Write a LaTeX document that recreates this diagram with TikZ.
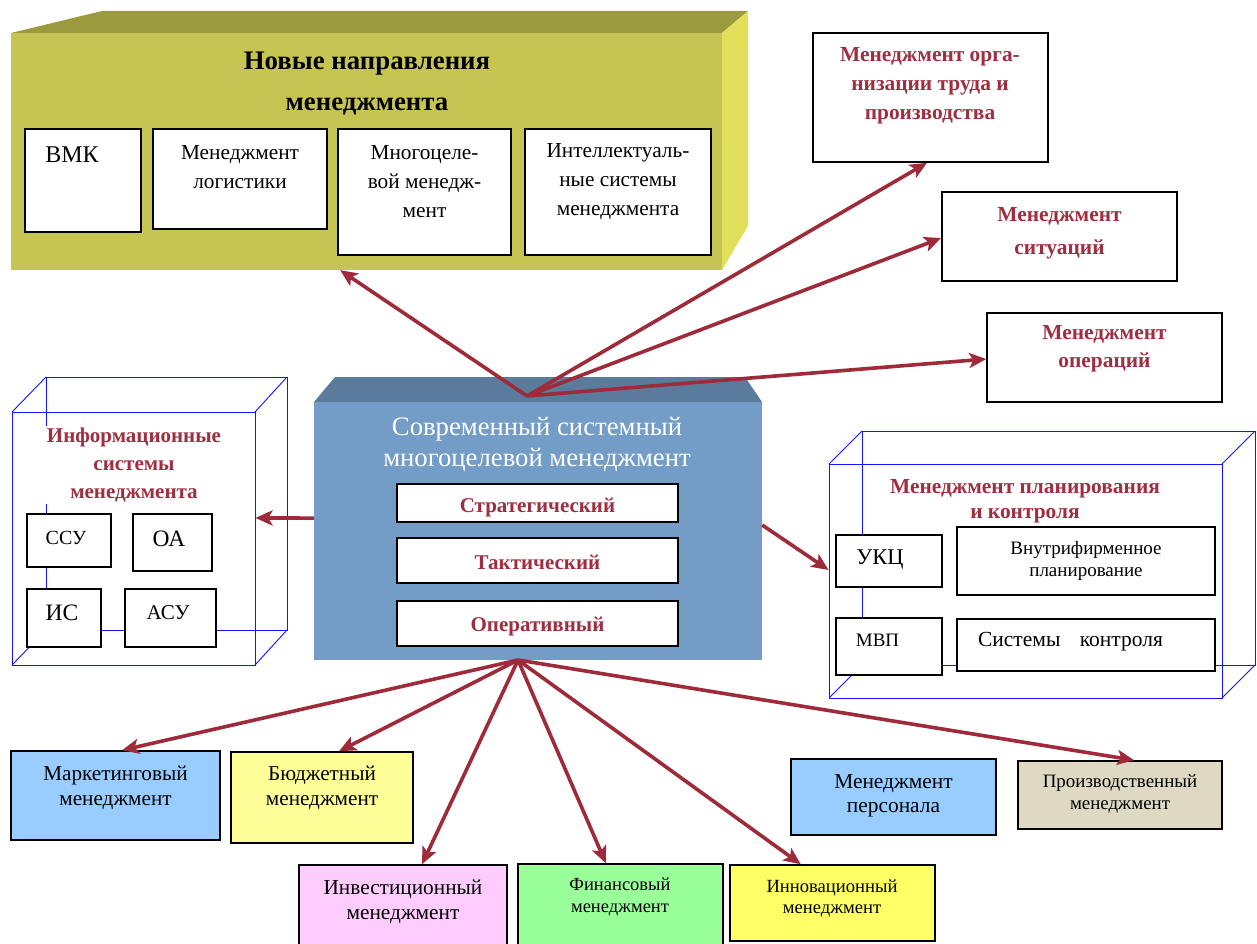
\documentclass[tikz,border=0pt]{standalone}
\usepackage{fontspec}
\setmainfont{Liberation Serif}
\usetikzlibrary{arrows.meta,calc,fit}
\definecolor{arrred}{RGB}{158,42,58}
\definecolor{txtred}{RGB}{158,46,64}
\definecolor{olvfront}{RGB}{198,197,83}
\definecolor{olvtop}{RGB}{155,154,62}
\definecolor{olvside}{RGB}{226,224,91}
\definecolor{cenfront}{RGB}{115,156,198}
\definecolor{centop}{RGB}{90,123,155}
\definecolor{wire}{RGB}{20,20,255}
\definecolor{cmark}{RGB}{153,204,255}
\definecolor{cbudg}{RGB}{255,255,153}
\definecolor{cinv}{RGB}{255,204,255}
\definecolor{cfin}{RGB}{153,255,153}
\definecolor{cinn}{RGB}{255,255,102}
\definecolor{cprod}{RGB}{221,217,195}
\newcommand\fs[2]{\fontsize{#1}{#2}\selectfont}
\newcommand\mkbox[6]{\path (#3,#4) coordinate (#2-nw) (#5,#6) coordinate (#2-se); \node[#1, fit=(#2-nw)(#2-se)] (#2) {};}
\begin{document}
\begin{tikzpicture}[x=1pt,y=-1pt,
  box/.style={draw=black, line width=1.6pt, fill=white, inner sep=0pt},
  wirebox/.style={draw=wire, line width=0.9pt, inner sep=0pt},
  arr/.style={draw=arrred, line width=3.6pt, -{Stealth[length=17pt,width=15pt,inset=4pt]}},
  lbl/.style={inner sep=0pt, align=center},
  rlbl/.style={lbl, text=txtred}]
\fill[white] (0,0) rectangle (1257,944);
\useasboundingbox (0,0) rectangle (1257,944);

% ---------- New directions (olive 3D box)
\fill[olvtop] (11,33) -- (102,11) -- (748,11) -- (722,33) -- cycle;
\fill[olvside] (722,33) -- (748,11) -- (748,226) -- (722,270) -- cycle;
\mkbox{fill=olvfront, inner sep=0pt}{ny}{11}{33}{722}{270}
\node[lbl, font=\bfseries\fs{26.8}{41}] (ny-t) at (367,83.5) {Новые направления\\менеджмента};
\mkbox{box}{vmk}{25}{129}{141}{232}
\node[lbl, font=\fs{24}{26}] (vmk-t) at (72,155) {ВМК};
\mkbox{box}{log}{153}{129}{327}{229}
\node[lbl, font=\fs{21.3}{29}] (log-t) at (240,167.5) {Менеджмент\\логистики};
\mkbox{box}{mnog}{338}{129}{511}{255}
\node[lbl, font=\fs{21.3}{29}] (mnog-t) at (424.5,181.5) {Многоцеле-\\вой менедж-\\мент};
\mkbox{box}{intel}{525}{129}{711}{255}
\node[lbl, font=\fs{21.3}{29}] (intel-t) at (618,181.5) {Интеллектуаль-\\ные системы\\менеджмента};

% ---------- right red-title boxes
\mkbox{box}{org}{813}{33}{1048}{162}
\node[rlbl, font=\bfseries\fs{21.4}{29}] (org-t) at (930,86) {Менеджмент орга-\\низации труда и\\производства};
\mkbox{box}{sit}{942}{192}{1177}{281}
\node[rlbl, font=\bfseries\fs{21.4}{33}] (sit-t) at (1059.5,233.5) {Менеджмент\\ситуаций};
\mkbox{box}{ops}{987}{313}{1222}{402}
\node[rlbl, font=\bfseries\fs{21.4}{28}] (ops-t) at (1104.5,349) {Менеджмент\\операций};

% ---------- info systems wireframe
\draw[wirebox] (46,377) rectangle (287,630);
\draw[wirebox] (12,412) -- (46,377) (255,412) -- (287,377) (255,665) -- (287,630) (12,665) -- (46,630);
\mkbox{wirebox}{info}{12}{412}{255}{665}
\node[rlbl, fill=white, inner sep=2pt, font=\bfseries\fs{21}{28}] (info-t) at (134,465) {Информационные\\системы\\менеджмента};
\mkbox{box}{ssu}{27}{514}{111}{567}
\node[lbl, font=\fs{20}{22}] (ssu-t) at (66,538) {ССУ};
\mkbox{box}{oa}{133}{514}{212}{571}
\node[lbl, font=\fs{23.5}{24}] (oa-t) at (169,539) {ОА};
\mkbox{box}{is}{27}{589}{101}{647}
\node[lbl, font=\fs{23.5}{24}] (is-t) at (62,613) {ИС};
\mkbox{box}{asu}{125}{589}{216}{647}
\node[lbl, font=\fs{21}{24}] (asu-t) at (168,613) {АСУ};

% ---------- central box
\fill[centop] (314,402) -- (335,377) -- (745,377) -- (762,402) -- cycle;
\mkbox{fill=cenfront, inner sep=0pt}{cen}{314}{402}{762}{660}
\node[lbl, text=white, font=\fs{26.7}{31}] (cen-t) at (537,444.5) {Современный системный\\многоцелевой менеджмент};
\mkbox{box}{strat}{397}{484}{678}{522}
\node[rlbl, font=\bfseries\fs{21}{24}] (strat-t) at (537.5,508) {Стратегический};
\mkbox{box}{tact}{397}{538}{678}{583}
\node[rlbl, font=\bfseries\fs{21}{24}] (tact-t) at (537.5,562) {Тактический};
\mkbox{box}{oper}{397}{601}{678}{646}
\node[rlbl, font=\bfseries\fs{21}{24}] (oper-t) at (537.5,626) {Оперативный};

% ---------- planning wireframe
\draw[wirebox] (862,431) rectangle (1255,665);
\draw[wirebox] (829,464) -- (862,431) (1222,464) -- (1255,431) (1222,698) -- (1255,665) (829,698) -- (862,665);
\mkbox{wirebox}{plan}{829}{464}{1222}{698}
\node[rlbl, fill=white, inner sep=2pt, font=\bfseries\fs{21.4}{25}] (plan-t) at (1025,501.5) {Менеджмент планирования\\и контроля};
\mkbox{box}{ukc}{836}{535}{942}{587}
\node[lbl, font=\fs{22.5}{24}] (ukc-t) at (880,560) {УКЦ};
\mkbox{box}{vnut}{957}{527}{1215}{595}
\node[lbl, font=\fs{19}{22}] (vnut-t) at (1086,561) {Внутрифирменное\\планирование};
\mkbox{box}{mvp}{836}{618}{942}{675}
\node[lbl, font=\fs{19}{22}] (mvp-t) at (877.5,640) {МВП};
\mkbox{box}{sys}{957}{619}{1215}{671}
\node[lbl, font=\fs{21.5}{24}] (sys-t) at (1070.5,642) {Системы\hspace{0.9em}контроля};

% ---------- bottom boxes
\mkbox{box, fill=cmark}{mark}{11}{751}{220}{840}
\node[lbl, font=\fs{21.2}{25}] (mark-t) at (115.5,787.5) {Маркетинговый\\менеджмент};
\mkbox{box, fill=cbudg}{budg}{231}{752}{413}{843}
\node[lbl, font=\fs{21.2}{25}] (budg-t) at (322,787.5) {Бюджетный\\менеджмент};
\mkbox{box, fill=cinv}{inv}{299}{865}{507}{952}
\node[lbl, font=\fs{21.3}{25}] (inv-t) at (403,901.5) {Инвестиционный\\менеджмент};
\mkbox{box, fill=cfin}{fin}{518}{864}{723}{952}
\node[lbl, font=\fs{18.5}{22}] (fin-t) at (620,897) {Финансовый\\менеджмент};
\mkbox{box, fill=cinn}{innov}{730}{865}{935}{941}
\node[lbl, font=\fs{18.6}{21}] (innov-t) at (832,898.5) {Инновационный\\менеджмент};
\mkbox{box, fill=cmark}{pers}{791}{759}{996}{835}
\node[lbl, font=\fs{21.4}{24}] (pers-t) at (893.5,796) {Менеджмент\\персонала};
\mkbox{box, fill=cprod}{prod}{1018}{761}{1222}{829}
\node[lbl, font=\fs{18.9}{22}] (prod-t) at (1120,794) {Производственный\\менеджмент};

% ---------- arrows
\coordinate (ct) at (527,396);
\coordinate (cb) at (518,660);
\draw[arr] (ct) -- ($(ny.south west)!0.463!(ny.south east)$);
\draw[arr] (ct) -- ($(org.south west)!0.485!(org.south east)$);
\draw[arr] (ct) -- ($(sit.north west)!0.517!(sit.south west)$);
\draw[arr] (ct) -- ($(ops.north west)!0.517!(ops.south west)$);
\draw[arr] ($(cen.north west)!0.45!(cen.south west)$) -- ($(info.north east)!0.419!(info.south east)$);
\draw[arr] ($(cen.north east)!0.477!(cen.south east)$) -- ($(plan.north west)!0.453!(plan.south west)$);
\draw[arr] (cb) -- ($(mark.north west)!0.531!(mark.north east)$);
\draw[arr] (cb) -- ($(budg.north west)!0.593!(budg.north east)$);
\draw[arr] (cb) -- ($(inv.north west)!0.591!(inv.north east)$);
\draw[arr] (cb) -- ($(fin.north west)!0.429!(fin.north east)$);
\draw[arr] (cb) -- ($(innov.north west)!0.346!(innov.north east)$);
\draw[arr] (cb) -- ($(prod.north west)!0.569!(prod.north east)$);
\end{tikzpicture}
\end{document}
